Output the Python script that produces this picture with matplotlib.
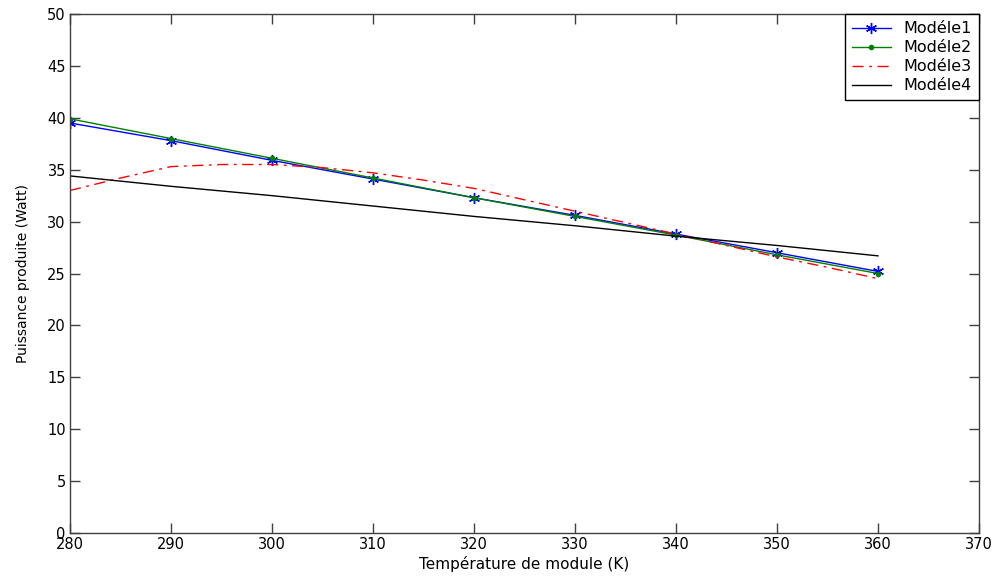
import numpy as np
import matplotlib.pyplot as plt
import matplotlib as mpl

mpl.rcParams['font.family'] = ['DejaVu Sans']

# temperature du module (K)
T = [280, 290, 300, 310, 320, 330, 340, 350, 360]

# puissance produite (Watt) for each model
P1 = [39.5, 37.8, 35.9, 34.1, 32.3, 30.6, 28.8, 27.0, 25.2]
P2 = [39.9, 38.0, 36.1, 34.2, 32.3, 30.5, 28.7, 26.8, 25.0]
P4 = [34.4, 33.4, 32.5, 31.5, 30.5, 29.6, 28.6, 27.7, 26.7]

# Modele3 is a curve, read on a finer grid
T3 = [280, 285, 290, 295, 300, 305, 310, 315, 320, 325, 330, 335, 340, 345, 350, 355, 360]
P3 = [33.0, 34.2, 35.3, 35.5, 35.5, 35.2, 34.7, 34.0, 33.2, 32.1, 31.0, 29.9, 28.8, 27.7, 26.6, 25.6, 24.5]

asterisk = (6, 2, 0)

fig = plt.figure(figsize=(9.97, 5.85), dpi=100)
ax = fig.add_axes([70 / 997, 52 / 585, 909 / 997, 519 / 585])

ax.plot(T, P1, color='blue', linewidth=1.0, marker=asterisk, markersize=8,
        markeredgewidth=1.0, label='Modéle1')
ax.plot(T, P2, color='green', linewidth=1.0, marker='o', markersize=3,
        label='Modéle2')
ax.plot(T3, P3, color='red', linewidth=1.0, linestyle=(0, (8, 4, 2, 4)),
        label='Modéle3')
ax.plot(T, P4, color='black', linewidth=1.0, label='Modéle4')

ax.set_xlim(280, 370)
ax.set_ylim(0, 50)
ax.set_xticks(np.arange(280, 371, 10))
ax.set_yticks(np.arange(0, 51, 5))
ax.tick_params(direction='in', length=7, width=1, top=True, right=True,
               labelsize=10.5, color='#404040', pad=3)
for s in ax.spines.values():
    s.set_color('#404040')
    s.set_linewidth(1.0)

ax.set_xlabel('Température de module (K)', fontsize=11, labelpad=3)
ax.set_ylabel('Puissance produite (Watt)', fontsize=10, labelpad=12)

leg = ax.legend(loc='upper right', borderaxespad=0, fancybox=False,
                framealpha=1, edgecolor='black', fontsize=11.5,
                handlelength=2.4, handletextpad=0.8, labelspacing=0.25,
                borderpad=0.45)
leg.get_frame().set_linewidth(1.0)

fig.savefig('out.png', dpi=100)
